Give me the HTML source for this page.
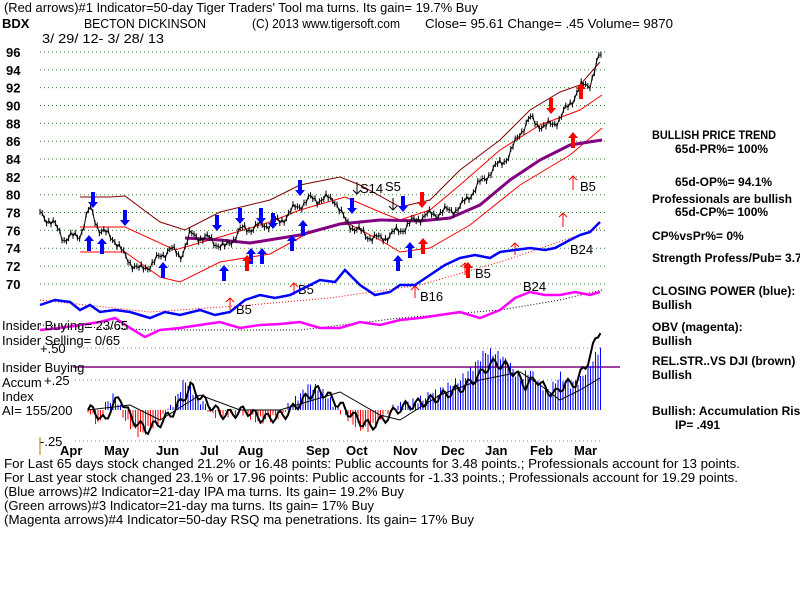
<!DOCTYPE html>
<html><head><meta charset="utf-8"><style>
body{margin:0;background:#fff;width:800px;height:600px;overflow:hidden}
svg{display:block}
text{font-family:"Liberation Sans",sans-serif;font-size:13px;fill:#000}
.b{font-weight:bold}
.r text{font-size:12px;font-weight:bold}
</style></head><body>
<svg id="s" width="800" height="600" viewBox="0 0 800 600" xmlns="http://www.w3.org/2000/svg">
<g id="grid" stroke="#2a8a2a" stroke-width="1" stroke-dasharray="1,3"></g>
<text x="4" y="12" textLength="474" lengthAdjust="spacingAndGlyphs">(Red arrows)#1 Indicator=50-day Tiger Traders' Tool ma turns. Its gain= 19.7% Buy</text>
<text x="2" y="28" class="b">BDX</text>
<text x="84" y="28" textLength="122" lengthAdjust="spacingAndGlyphs">BECTON DICKINSON</text>
<text x="252" y="28" textLength="148" lengthAdjust="spacingAndGlyphs">(C) 2013 www.tigersoft.com</text>
<text x="425" y="28" textLength="248" lengthAdjust="spacingAndGlyphs">Close=  95.61   Change= .45 Volume= 9870</text>
<text x="42" y="43" textLength="122" lengthAdjust="spacingAndGlyphs">3/ 29/ 12- 3/ 28/ 13</text>
<g id="ylab" class="b"></g>
<polyline fill="none" stroke="#800000" points="80,197 110,197 125,196 160,222 185,230 220,212 270,200 300,185 340,177 360,185 400,207 430,200 460,170 500,140 530,110 560,92 580,85 600,62"/>
<polyline fill="none" stroke="#ff0000" points="80,227 125,227 175,250 220,237 270,222 300,210 345,197 380,212 400,220 430,210 460,185 500,150 540,125 580,110 602,95"/>
<polyline fill="none" stroke="#ff0000" points="80,252 125,252 160,277 180,282 220,262 270,254 310,232 345,222 380,240 400,252 430,248 470,225 520,185 570,155 602,128"/>
<polyline fill="none" stroke="#800080" stroke-width="3" points="185,238 220,240 250,243 300,235 340,224 380,220 420,221 450,218 480,205 510,180 540,160 570,145 602,140"/>
<g id="pb"></g>
<polyline id="price" fill="none" stroke="#000" stroke-width="1"/>
<g id="arr"></g>
<g fill="none" stroke="#f00"><path d="M515,255v-12m-4,4l4,-4l4,4M563,227v-14m-4,4l4,-4l4,4M573,190v-14m-4,4l4,-4l4,4M294,295v-12m-4,4l4,-4l4,4M230,310v-12m-4,4l4,-4l4,4M465,275v-12m-4,4l4,-4l4,4M415,298v-12m-4,4l4,-4l4,4"/></g>
<path d="M357,182v12m-4,-4l4,4l4,-4M393,198v12m-4,-4l4,4l4,-4" stroke="#000" fill="none"/>
<text x="360" y="193">S14</text><text x="385" y="191">S5</text>
<text x="580" y="191">B5</text><text x="475" y="278">B5</text><text x="298" y="294">B5</text><text x="236" y="314">B5</text><text x="420" y="301">B16</text>
<text x="570" y="254" font-size="18">B24</text><text x="523" y="291" font-size="18">B24</text>
<polyline fill="none" stroke="#f00" stroke-dasharray="1,2" points="40,300 150,312 250,305 330,298 420,285 500,262 600,228"/>
<polyline fill="none" stroke="#0000ff" stroke-width="2.5" points="40,305 55,300 70,302 80,310 90,305 100,312 115,310 130,312 150,318 165,312 180,315 200,310 215,315 230,312 245,300 260,295 275,298 290,295 300,290 320,280 335,282 345,270 360,285 375,295 390,292 400,285 415,285 430,275 445,265 460,258 475,255 490,258 500,252 515,250 530,248 545,250 555,248 570,240 580,235 590,232 600,222"/>
<polyline fill="none" stroke="#000" stroke-dasharray="1,2" points="40,325 150,330 300,330 400,318 500,310 560,300 602,290"/>
<polyline fill="none" stroke="#ff00ff" stroke-width="2.5" points="40,330 60,328 80,325 100,322 115,318 130,328 145,337 160,330 180,328 200,325 220,322 240,328 260,325 280,324 300,322 320,328 340,328 360,322 380,325 400,320 420,318 440,315 460,312 480,318 500,310 515,298 530,292 545,295 560,295 575,292 590,295 600,292"/>
<text x="2" y="330">Insider Buying= 23/65</text>
<text x="2" y="345">Insider Selling= 0/65</text>
<text x="40" y="353">+.50</text>
<line x1="73" y1="367" x2="620" y2="367" stroke="#800080" stroke-width="1.5"/>
<text x="2" y="372">Insider Buying</text>
<text x="2" y="387">Accum</text><text x="44" y="385">+.25</text>
<text x="2" y="401">Index</text>
<text x="2" y="415">AI= 155/200</text>
<text x="40" y="446">-.25</text>
<g stroke="#888" stroke-dasharray="1,3"><line x1="75" y1="348" x2="602" y2="348"/><line x1="75" y1="380" x2="602" y2="380"/><line x1="75" y1="441" x2="602" y2="441"/></g>
<g id="bars" stroke-width="1"></g>
<polyline id="ail" fill="none" stroke="#000" stroke-width="2"/>
<polyline fill="none" stroke="#000" points="88,410 130,405 160,420 200,395 240,410 280,410 340,392 380,415 400,420 440,395 480,380 520,372 540,385 560,400 580,390 600,378"/>
<line x1="40" y1="437" x2="40" y2="455" stroke="#a08000"/>
<g class="b"><text x="60" y="455">Apr</text><text x="104" y="455">May</text><text x="156" y="455">Jun</text><text x="200" y="455">Jul</text><text x="238" y="455">Aug</text><text x="306" y="455">Sep</text><text x="346" y="455">Oct</text><text x="393" y="455">Nov</text><text x="441" y="455">Dec</text><text x="485" y="455">Jan</text><text x="530" y="455">Feb</text><text x="574" y="455">Mar</text></g>
<text x="4" y="468" textLength="736" lengthAdjust="spacingAndGlyphs">For Last 65 days stock changed  21.2% or  16.48 points:  Public accounts for  3.48 points.;  Professionals account for  13 points.</text>
<text x="4" y="482" textLength="734" lengthAdjust="spacingAndGlyphs">For Last year stock changed  23.1% or  17.96 points:  Public accounts for -1.33 points.;  Professionals account for  19.29 points.</text>
<text x="4" y="496" textLength="400" lengthAdjust="spacingAndGlyphs">(Blue arrows)#2 Indicator=21-day IPA ma turns. Its gain= 19.2% Buy</text>
<text x="4" y="510" textLength="370" lengthAdjust="spacingAndGlyphs">(Green arrows)#3 Indicator=21-day ma turns. Its gain= 17% Buy</text>
<text x="4" y="524" textLength="470" lengthAdjust="spacingAndGlyphs">(Magenta arrows)#4 Indicator=50-day RSQ ma penetrations. Its gain= 17% Buy</text>
<g class="r">
<text x="652" y="139" textLength="124" lengthAdjust="spacingAndGlyphs">BULLISH PRICE TREND</text><text x="675" y="153">65d-PR%= 100%</text>
<text x="675" y="186">65d-OP%= 94.1%</text><text x="652" y="203" textLength="140" lengthAdjust="spacingAndGlyphs">Professionals are bullish</text><text x="675" y="216">65d-CP%= 100%</text>
<text x="652" y="240">CP%vsPr%=  0%</text><text x="652" y="262">Strength Profess/Pub= 3.7</text>
<text x="652" y="295">CLOSING POWER (blue):</text><text x="652" y="309">Bullish</text>
<text x="652" y="331">OBV (magenta):</text><text x="652" y="345">Bullish</text>
<text x="652" y="365">REL.STR..VS DJI (brown)</text><text x="652" y="379">Bullish</text>
<text x="652" y="415">Bullish: Accumulation Risi</text><text x="675" y="429">IP= .491</text>
</g>
</svg>
<script>
var NS="http://www.w3.org/2000/svg",s=document.getElementById('s');
function Y(p){return 52+(96-p)*8.92}
function el(n,a,par){var e=document.createElementNS(NS,n);for(var k in a)e.setAttribute(k,a[k]);par.appendChild(e);return e;}
var g=document.getElementById('grid'),yl=document.getElementById('ylab');
for(var p=96;p>=70;p-=2){el('line',{x1:40,x2:605,y1:Y(p),y2:Y(p)},g);var t=el('text',{x:6,y:Y(p)+5},yl);t.textContent=p;}
function interp(k,x){if(x<=k[0][0])return k[0][1];for(var i=0;i<k.length-1;i++){if(x>=k[i][0]&&x<=k[i+1][0]){var f=(x-k[i][0])/(k[i+1][0]-k[i][0]);return k[i][1]+f*(k[i+1][1]-k[i][1]);}}return k[k.length-1][1];}
var pk=[[40,78],[55,76.5],[65,75],[80,75.5],[90,78.5],[100,76],[115,75],[125,73],[140,71.5],[155,72.5],[170,74],[180,73],[190,75.5],[210,75],[225,74],[240,76],[260,76.5],[280,77],[295,78.5],[310,79.5],[335,79.5],[345,77],[365,75.5],[380,75],[400,76],[420,77.5],[440,78],[460,78.5],[470,80],[490,82.5],[510,84.5],[520,87],[530,88.5],[545,87.5],[560,88.5],[580,92],[590,92.5],[600,95.6]];
var pts=[],pb=document.getElementById('pb');
for(var x=40;x<=601;x+=2.2){var v=interp(pk,x)+Math.sin(x*1.7)*0.25+Math.sin(x*0.37)*0.4;var y=Y(v);pts.push(x.toFixed(1)+','+y.toFixed(1));el('line',{x1:x,x2:x,y1:y-3,y2:y+3,stroke:'#000'},pb);}
document.getElementById('price').setAttribute('points',pts.join(' '));
var A=document.getElementById('arr');
function arrow(x,y,up,c){var h=16,d;if(up){d='M'+x+','+y+'l5,6h-3v'+(h-6)+'h-4v-'+(h-6)+'h-3z';}else{d='M'+(x-2)+','+y+'h4v'+(h-6)+'h3l-5,6l-5,-6h3z';}el('path',{d:d,fill:c},A);}
[[93,192],[125,210],[217,215],[240,208],[261,208],[273,213],[300,180],[352,198],[403,196]].forEach(function(a){arrow(a[0],a[1],0,'#0000ff')});
[[89,235],[102,238],[163,262],[224,265],[251,248],[262,248],[292,235],[303,220],[398,255],[410,242]].forEach(function(a){arrow(a[0],a[1],1,'#0000ff')});
[[422,192],[551,98]].forEach(function(a){arrow(a[0],a[1],0,'#ff0000')});
[[247,255],[423,238],[468,262],[573,132],[581,83]].forEach(function(a){arrow(a[0],a[1],1,'#ff0000')});
var ak=[[88,0],[95,-10],[100,-15],[105,5],[115,15],[125,-10],[140,-25],[155,-15],[165,-5],[175,10],[185,30],[195,15],[205,5],[215,-5],[225,-5],[240,0],[255,-10],[265,-10],[280,-5],[295,10],[310,25],[320,20],[335,5],[345,-5],[355,-15],[365,-20],[380,-10],[390,0],[400,5],[420,10],[440,20],[460,30],[475,45],[485,58],[490,58],[500,55],[510,45],[520,30],[530,40],[540,25],[550,20],[560,35],[570,25],[580,30],[590,45],[600,62]];
var bg=document.getElementById('bars'),al=[];
for(var x=88;x<=602;x+=2.5){var v=interp(ak,x)+Math.sin(x*0.9)*4;el('line',{x1:x,x2:x,y1:410,y2:410-v,stroke:v>=0?'#0000ff':'#ff0000'},bg);
var yv=410-interp(ak,x-6)*0.8-Math.sin(x*0.5)*5+(x>570?-(x-570)*1.3:0);al.push(x+','+yv.toFixed(1));}
document.getElementById('ail').setAttribute('points',al.join(' '));
</script>
</body></html>
